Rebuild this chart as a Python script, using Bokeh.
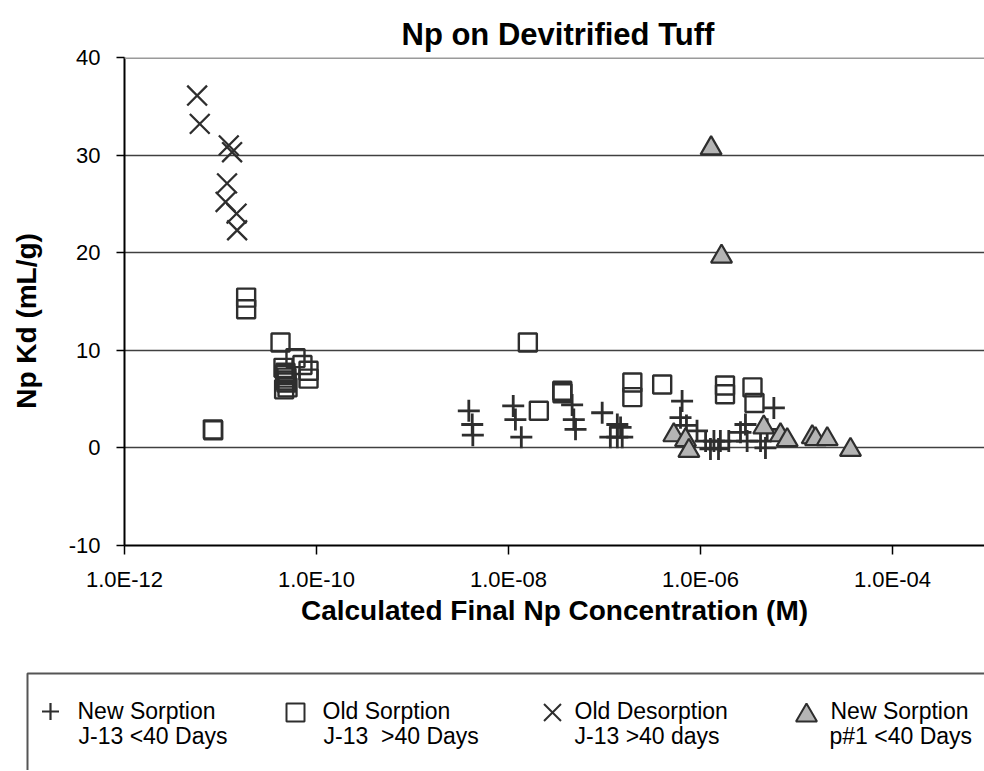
from bokeh.plotting import figure
from bokeh.models import Range1d, FixedTicker, Span, CustomJSTickFormatter
from bokeh.core.properties import value
from bokeh.embed import file_html
from bokeh.resources import INLINE

# ---------------- data ----------------
title_text = "Np on Devitrified Tuff"
x_title = "Calculated Final Np Concentration (M)"
y_title = "Np Kd (mL/g)"

x_tick_values = [1e-12, 1e-10, 1e-8, 1e-6, 1e-4]
x_tick_labels = ["1.0E-12", "1.0E-10", "1.0E-08", "1.0E-06", "1.0E-04"]
y_tick_values = [-10, 0, 10, 20, 30, 40]

# New Sorption J-13 <40 Days  (+)
new_sorp_x = [3.86e-9, 4.19e-9, 4.25e-9, 1.12e-8, 1.18e-8, 1.36e-8, 4.60e-8, 4.79e-8,
              4.99e-8, 9.46e-8, 1.36e-7, 1.15e-7, 1.36e-7, 1.53e-7, 1.47e-7, 6.43e-7,
              6.19e-7, 7.14e-7, 9.20e-7, 1.13e-6, 1.38e-6, 1.61e-6, 1.97e-6, 1.27e-6,
              1.54e-6, 2.61e-6, 2.94e-6, 3.06e-6, 4.22e-6, 4.75e-6, 5.81e-6, 4.95e-6]
new_sorp_kd = [3.8, 2.4, 1.3, 4.3, 2.9, 1.1, 4.4, 2.9,
               1.9, 3.6, 2.4, 1.1, 1.1, 1.1, 2.1, 4.8,
               3.1, 2.3, 1.75, 0.7, 0.7, 0.7, 0.7, -0.1,
               -0.1, 1.6, 2.4, 0.7, 0.7, 0.0, 4.1, 1.9]

# Old Sorption J-13 >40 Days  (square)
old_sorp_x = [1.85e-11, 1.85e-11, 4.22e-11, 4.53e-11, 4.75e-11, 4.87e-11, 4.87e-11, 4.99e-11,
              6.04e-11, 7.14e-11, 8.26e-11, 8.26e-11, 8.32e-12, 8.40e-12, 1.59e-8, 2.07e-8,
              3.63e-8, 3.65e-8, 1.95e-7, 1.95e-7, 3.99e-7, 1.80e-6, 1.80e-6, 3.48e-6, 3.65e-6,
              4.60e-11, 4.80e-11, 4.70e-11]
old_sorp_kd = [15.4, 14.2, 10.8, 8.2, 7.7, 7.2, 6.7, 6.2,
               9.2, 8.5, 7.9, 7.1, 1.9, 1.8, 10.8, 3.8,
               5.85, 5.6, 6.7, 5.2, 6.5, 6.4, 5.5, 6.2, 4.6,
               6.0, 6.9, 7.5]

# Old Desorption J-13 >40 days  (x)
old_desorp_x = [5.71e-12, 6.08e-12, 1.22e-11, 1.32e-11, 1.17e-11, 1.13e-11, 1.47e-11, 1.49e-11]
old_desorp_kd = [36.1, 33.2, 31.0, 30.3, 27.1, 25.2, 24.0, 22.3]

# New Sorption p#1 <40 Days  (triangle)
new_p1_x = [1.29e-6, 1.656e-6, 5.27e-7, 6.98e-7, 7.57e-7, 4.56e-6, 6.81e-6, 8.0e-6,
            1.459e-5, 1.578e-5, 2.09e-5, 3.65e-5]
new_p1_kd = [30.7, 19.6, 1.3, 0.8, -0.3, 2.1, 1.3, 0.8,
             1.1, 0.9, 0.9, -0.2]

legend_line1 = ["New Sorption", "Old Sorption", "Old Desorption", "New Sorption"]
legend_line2 = ["J-13 <40 Days", "J-13 \u00a0>40 Days", "J-13 >40 days", "p#1 <40 Days"]

# ---------------- styles / layout ----------------
FONT = "Liberation Sans"
MARK = "#2e2e2e"
TRI_FILL = "#b4b4b4"
W = 984
H1, H2 = 655, 115                  # chart part, legend part
FL, FT, FB = 124, 57, 545          # frame left / top / bottom (px)

p = figure(width=W, height=H1, x_axis_type="log",
           x_range=Range1d(1e-12, 10 ** (-12 + (W - FL) / 96.0)), y_range=Range1d(-10, 40),
           output_backend="svg", toolbar_location=None,
           min_border_left=FL, min_border_right=0, min_border_top=FT,
           min_border_bottom=H1 - FB)

p.outline_line_color = None
p.background_fill_color = "white"
p.border_fill_color = "white"

p.title.text = title_text
p.title.text_font = FONT
p.title.text_font_size = "31px"
p.title.text_font_style = "bold"
p.title.text_color = "black"
p.title.align = "left"
p.title.offset = 277
p.title.standoff = 12

# axes
p.xaxis.ticker = FixedTicker(ticks=x_tick_values)
p.xaxis.formatter = CustomJSTickFormatter(
    args=dict(vals=x_tick_values, labs=x_tick_labels),
    code="""
    for (let i = 0; i < vals.length; i++) {
        if (Math.abs(Math.log10(vals[i]) - Math.log10(tick)) < 1e-6) return labs[i];
    }
    return "";
    """)
p.yaxis.ticker = FixedTicker(ticks=y_tick_values)
p.yaxis.formatter = CustomJSTickFormatter(code="return String(tick);")

for ax in (p.xaxis, p.yaxis):
    ax.axis_line_color = "black"
    ax.axis_line_width = 2
    ax.major_tick_line_color = "black"
    ax.major_tick_line_width = 1.5
    ax.major_tick_in = 0
    ax.minor_tick_line_color = None
    ax.major_label_text_font = FONT
    ax.major_label_text_font_size = "22px"
    ax.major_label_text_color = "black"
    ax.axis_label_text_font = FONT
    ax.axis_label_text_font_size = "28px"
    ax.axis_label_text_font_style = "bold"
    ax.axis_label_text_color = "black"

p.xaxis.axis_label = x_title
# the reference centres the y title a little below the middle of the plot area
p.yaxis.axis_label = y_title + "\u00a0" * 5
p.xaxis.major_tick_out = 9
p.xaxis.major_label_standoff = 12
p.xaxis.axis_label_standoff = 0
p.yaxis.major_tick_out = 8
p.yaxis.major_label_standoff = 16
p.yaxis.axis_label_standoff = 24

p.xgrid.grid_line_color = None
p.ygrid.ticker = FixedTicker(ticks=[0, 10, 20, 30])
p.ygrid.grid_line_color = "#404040"
p.ygrid.grid_line_width = 1.7

p.add_layout(Span(location=40, dimension="width", line_color="#9a9a9a", line_width=3))

# series
p.scatter(new_sorp_x, new_sorp_kd, marker="cross", size=22, line_color=MARK, line_width=2.8)
p.scatter(old_sorp_x, old_sorp_kd, marker="square", size=18, fill_color=None,
          line_color=MARK, line_width=2.4)
p.scatter(old_desorp_x, old_desorp_kd, marker="x", size=28, line_color=MARK, line_width=2.3)
p.scatter(new_p1_x, new_p1_kd, marker="triangle", size=21, fill_color=TRI_FILL,
          line_color=MARK, line_width=2.2)

# ---------------- legend panel (pixel space, y down) ----------------
q = figure(width=W, height=H2, x_range=Range1d(0, W), y_range=Range1d(H2, 0),
           x_axis_location=None, y_axis_location=None,
           output_backend="svg", toolbar_location=None,
           min_border_left=0, min_border_right=0, min_border_top=0, min_border_bottom=0)
q.outline_line_color = None
q.background_fill_color = "white"
q.border_fill_color = "white"
q.grid.visible = False

# open box (left + top edges visible, the rest runs off the page)
q.line([27, 27, W + 10], [H2 + 10, 18, 18], line_color="#555555", line_width=2)

q.scatter([50], [56], marker="cross", size=17, line_color=MARK, line_width=2.2)
q.scatter([295], [57], marker="square", size=18, fill_color=None, line_color=MARK, line_width=2)
q.scatter([552], [57], marker="x", size=24, line_color=MARK, line_width=2)
q.scatter([806], [60], marker="triangle", size=21, fill_color=TRI_FILL,
          line_color=MARK, line_width=2)

q.text([77, 322, 574, 830], [55] * 4, text=legend_line1, text_font=value(FONT),
       text_font_size="23px", text_baseline="alphabetic", text_align="left", text_color="black")
q.text([78, 323, 574, 829], [80] * 4, text=legend_line2, text_font=value(FONT),
       text_font_size="23px", text_baseline="alphabetic", text_align="left", text_color="black")

open("out.html", "w").write(file_html([p, q], INLINE))
